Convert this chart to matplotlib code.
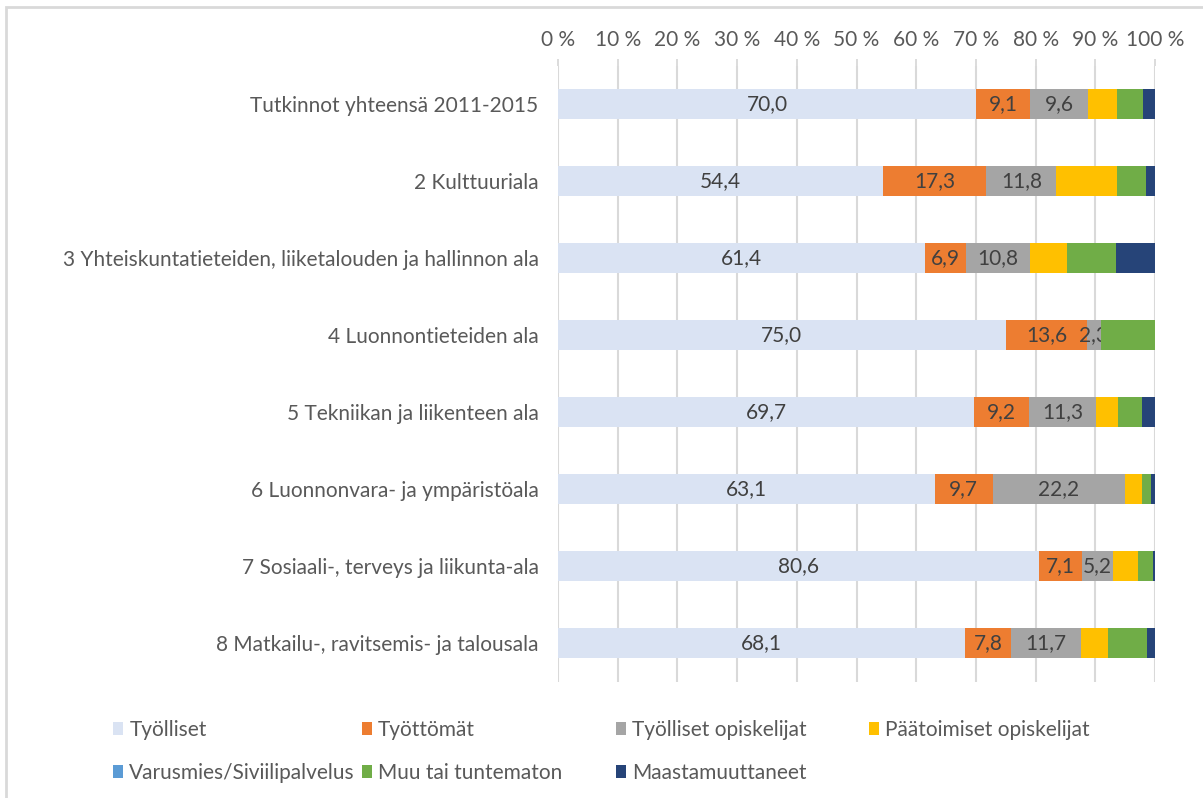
import matplotlib.pyplot as plt
from matplotlib.patches import Patch, Rectangle

plt.rcParams['font.family'] = ['Lato', 'DejaVu Sans']

categories = [
    'Tutkinnot yhteensä 2011-2015',
    '2 Kulttuuriala',
    '3 Yhteiskuntatieteiden, liiketalouden ja hallinnon ala',
    '4 Luonnontieteiden ala',
    '5 Tekniikan ja liikenteen ala',
    '6 Luonnonvara- ja ympäristöala',
    '7 Sosiaali-, terveys ja liikunta-ala',
    '8 Matkailu-, ravitsemis- ja talousala',
]

tyolliset = [70.0, 54.4, 61.4, 75.0, 69.7, 63.1, 80.6, 68.1]
tyottomat = [9.1, 17.3, 6.9, 13.6, 9.2, 9.7, 7.1, 7.8]
tyolliset_opisk = [9.6, 11.8, 10.8, 2.3, 11.3, 22.2, 5.2, 11.7]
paatoimiset_opisk = [4.9, 10.1, 6.1, 0.0, 3.6, 2.8, 4.2, 4.5]
varusmies = [0.0, 0.0, 0.0, 0.0, 0.0, 0.0, 0.0, 0.0]
muu = [4.4, 4.9, 8.3, 9.1, 4.1, 1.6, 2.6, 6.5]
maastamuuttaneet = [2.0, 1.5, 6.5, 0.0, 2.1, 0.6, 0.3, 1.4]

series = [
    ('Työlliset', tyolliset, '#DAE3F3', True),
    ('Työttömät', tyottomat, '#ED7D31', True),
    ('Työlliset opiskelijat', tyolliset_opisk, '#A5A5A5', True),
    ('Päätoimiset opiskelijat', paatoimiset_opisk, '#FFC000', False),
    ('Varusmies/Siviilipalvelus', varusmies, '#5B9BD5', False),
    ('Muu tai tuntematon', muu, '#70AD47', False),
    ('Maastamuuttaneet', maastamuuttaneet, '#264478', False),
]

xticks = list(range(0, 101, 10))
FS = 15

fig = plt.figure(figsize=(12.03, 7.98), dpi=100)
ax = fig.add_axes([558 / 1203, 1 - 681.5 / 798, 597 / 1203, 616 / 798])

# outer chart border
fig.patches.append(Rectangle((6 / 1203, -0.1), 1.2, 1 - 7 / 798 + 0.1,
                             transform=fig.transFigure, fill=False,
                             edgecolor='#D9D9D9', linewidth=2))

ypos = list(range(len(categories)))
left = [0.0] * len(categories)
for name, vals, color, show in series:
    bars = ax.barh(ypos, vals, left=left, height=0.4, color=color, label=name, zorder=3)
    if show:
        labels = [f'{v:.1f}'.replace('.', ',') for v in vals]
        ax.bar_label(bars, labels=labels, label_type='center',
                     color='#404040', fontsize=FS)
    left = [a + b for a, b in zip(left, vals)]

ax.set_xlim(0, 100)
ax.set_ylim(len(categories) - 0.5, -0.5)
ax.set_xticks(xticks)
ax.set_xticklabels([f'{t} %' for t in xticks])
ax.xaxis.tick_top()
ax.tick_params(axis='x', colors='#D9D9D9', labelcolor='#595959', labelsize=FS,
               length=5, width=1.3, pad=6)
ax.set_yticks(ypos)
ax.set_yticklabels(categories)
ax.tick_params(axis='y', length=0, labelcolor='#595959', labelsize=FS, pad=14)
ax.grid(axis='x', color='#D9D9D9', linewidth=1.5, zorder=0)
for s in ax.spines.values():
    s.set_visible(False)

handles = [Patch(facecolor=c, label=n) for n, _, c, _ in series]
columns = [[0, 4], [1, 5], [2, 6], [3]]
col_x = [113, 362, 616, 869]
for idx, x in zip(columns, col_x):
    fig.legend(handles=[handles[i] for i in idx], loc='upper left',
               bbox_to_anchor=(x / 1203, 1 - 720 / 798), frameon=False,
               fontsize=FS, labelcolor='#595959', handlelength=0.48,
               handleheight=0.6, handletextpad=0.3, labelspacing=1.1,
               borderpad=0, borderaxespad=0)

fig.savefig('out.png', dpi=100)
